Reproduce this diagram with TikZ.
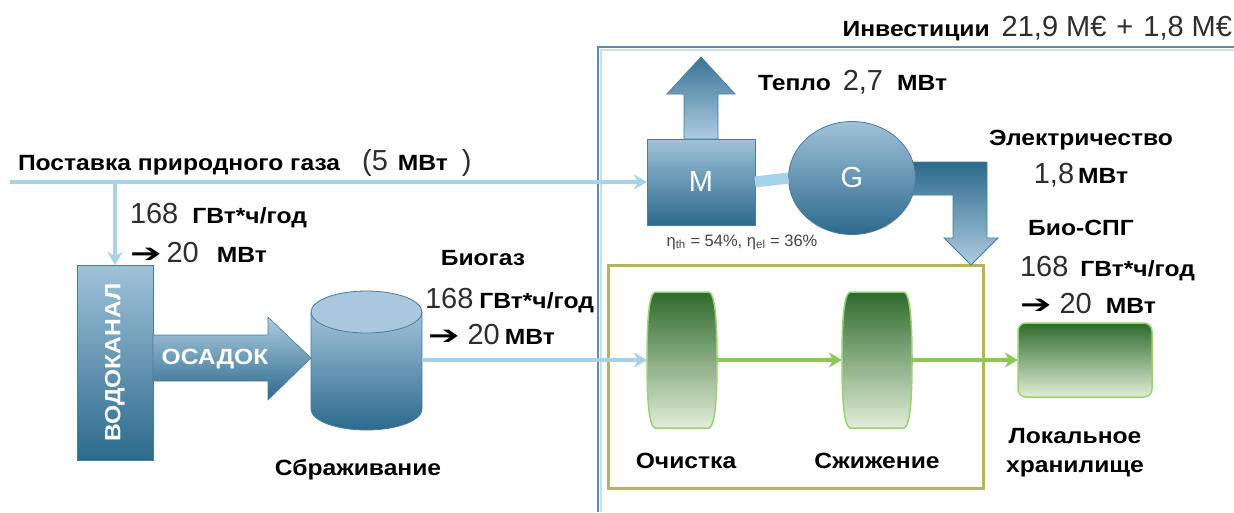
\documentclass[tikz,border=0pt]{standalone}
\usepackage{fontspec}
\usepackage{graphicx}
\setmainfont{Liberation Sans}
\newfontfamily\widesans[FakeStretch=1.12]{Liberation Sans}
\newfontfamily\dejavu{DejaVu Sans}
\usetikzlibrary{shapes.geometric,arrows.meta,calc}

\definecolor{bluetop}{HTML}{A0C2D9}
\definecolor{bluedark}{HTML}{2C6A8C}
\definecolor{bluemid}{HTML}{3A7698}
\definecolor{arrowtop}{HTML}{3A7496}
\definecolor{arrowlight}{HTML}{ADCCE0}
\definecolor{cyltop}{HTML}{A9C8DD}
\definecolor{blueedge}{HTML}{4A7C9B}
\definecolor{pipe}{HTML}{A6D3EA}
\definecolor{gdark}{HTML}{2F6B2C}
\definecolor{gmid}{HTML}{87AD67}
\definecolor{glight}{HTML}{E2EDD8}
\definecolor{gedge}{HTML}{98D274}
\definecolor{garrow}{HTML}{8CC653}
\definecolor{olive}{HTML}{B4B45C}
\definecolor{framecol}{HTML}{5E8CAA}
\definecolor{numgray}{HTML}{2E2E2E}
\definecolor{etagray}{HTML}{444444}

\newcommand\bw[1]{{\widesans\fontsize{22}{26}\selectfont\bfseries #1}}
\newcommand\nm[1]{{\fontsize{29}{33}\selectfont\color{numgray}#1}}
\newcommand\harrow{\scalebox{1.45}[1.0]{\dejavu\fontsize{26}{28}\selectfont ➔}}

\begin{document}
\begin{tikzpicture}[x=1pt,y=-1pt,
  every node/.style={inner sep=0pt, outer sep=0pt, font=\fontsize{22}{26}\selectfont},
  bluebody/.style={draw=blueedge, line width=0.8pt, top color=bluetop, bottom color=bluedark},
  pipeline/.style={draw=pipe, line width=4pt, -{Stealth[length=13pt,width=15pt,inset=4pt]}},
  greenarr/.style={draw=garrow, line width=4pt, -{Stealth[length=13pt,width=15pt,inset=4pt]}},
  greenbody/.style={draw=gedge, line width=1.5pt, top color=gdark, middle color=gmid, bottom color=glight},
]
\useasboundingbox (0,0) rectangle (1234,512);
\fill[white] (0,0) rectangle (1234,512);

% outer frame
\draw[framecol!30, line width=1.5pt] (601,512) -- (601,50) -- (1234,50);
\draw[framecol, line width=1.6pt] (598,512) -- (598,47) -- (1234,47);

% green frame
\node[draw=olive, line width=3pt, minimum width=375pt, minimum height=223pt] (GF) at (795.5,376.5) {};

% engine M
\node[bluebody, minimum width=108pt, minimum height=86pt, text=white,
      font=\fontsize{29}{33}\selectfont] (M) at (701,182) {M};
% heat arrow
\begin{scope}[shift={(M.north)}]
  \path[draw=blueedge, line width=0.8pt, top color=arrowtop, bottom color=arrowlight]
    (-17,0) -- (-17,-45) -- (-34,-45) -- (0,-82) -- (34,-45) -- (17,-45) -- (17,0) -- cycle;
\end{scope}

% electricity elbow arrow (under G)
\coordinate (Gc) at (852,178);
\begin{scope}[shift={(Gc)}]
  \path[draw=blueedge, line width=0.8pt, top color=bluedark, middle color=bluemid, bottom color=arrowlight]
    (40,-16) -- (135,-16) -- (135,60) -- (146,60) -- (119,87) -- (92,60) -- (101,60) -- (101,17) -- (40,17) -- cycle;
\end{scope}

% generator G
\node[ellipse, bluebody, minimum width=127pt, minimum height=113pt, text=white,
      font=\fontsize{29}{33}\selectfont] (G) at (Gc) {G};
\draw[draw=pipe, line width=11pt] (M.east) -- (G.west);

\node[font=\fontsize{16.5}{18}\selectfont, text=etagray] (eta) at (742,242)
  {η\textsubscript{th} = 54\%, η\textsubscript{el} = 36\%};

% Vodokanal
\node[bluebody, minimum width=76pt, minimum height=195pt] (VK) at (115,362.5) {};
\node[rotate=90, text=white] (VKt) at (VK.center) {\bw{ВОДОКАНАЛ}};

% natural gas supply
\coordinate (gas0) at (10,182);
\coordinate (gasbr) at (115,182);
\draw[pipeline] (gas0) -- (M.west);
\draw[pipeline] (gasbr) -- (VK.north);

% digester
\node[minimum width=111pt, minimum height=139pt] (DG) at (366.5,360) {};
\path[draw=blueedge, line width=0.8pt, top color=bluetop, bottom color=bluedark]
  (311,312) -- (311,409) .. controls (311,420.6) and (335.8,430) .. (366.5,430)
  .. controls (397.2,430) and (422,420.6) .. (422,409) -- (422,312) -- cycle;
\path[draw=blueedge, line width=0.8pt, fill=cyltop] (366.5,312) ellipse [x radius=55.5, y radius=21];

% sludge arrow
\path[draw=blueedge, line width=0.6pt, top color=arrowlight, bottom color=bluedark]
  (153,335) -- (268,335) -- (268,317) -- (311,358) -- (268,400) -- (268,381) -- (153,381) -- cycle;
\node[text=white] (OS) at (215,359) {\bw{ОСАДОК}};

% green processing units
\node[minimum width=70pt, minimum height=136pt] (C1) at (682,360) {};
\node[minimum width=70pt, minimum height=136pt] (C2) at (877,360) {};
\foreach \c in {C1,C2}{
  \begin{scope}[shift={(\c.center)}]
    \path[greenbody] (-27,-68) -- (27,-68) .. controls (33,-66) and (35,-40) .. (35,0)
      .. controls (35,40) and (33,66) .. (27,68) -- (-27,68)
      .. controls (-33,66) and (-35,40) .. (-35,0) .. controls (-35,-40) and (-33,-66) .. (-27,-68) -- cycle;
  \end{scope}
}
\node[greenbody, rounded corners=8pt, minimum width=134pt, minimum height=74pt] (ST) at (1085,360) {};

\draw[pipeline] (DG.east) -- (C1.west);
\draw[greenarr] (C1.east) -- (C2.west);
\draw[greenarr] (C2.east) -- (ST.west);

% texts
\node[anchor=base east] (inv) at (1232,36) {\bw{Инвестиции}\hspace{12pt}\nm{21,9\hspace{8pt}M€\hspace{10pt}+\hspace{10pt}1,8\hspace{8pt}M€}};
\node[anchor=base west] (heat) at (758,90) {\bw{Тепло}\hspace{12pt}\nm{2,7}\hspace{14pt}\bw{МВт}};
\node[anchor=base west] (gasT) at (18,170) {\bw{Поставка природного газа}\hspace{22pt}\nm{(5}\hspace{10pt}\bw{МВт}\hspace{14pt}\nm{)}};
\node[anchor=base west] (vk168) at (130,223) {\nm{168}\hspace{14pt}\bw{ГВт*ч/год}};
\node[anchor=base west] (vk20) at (130,262) {\harrow\hspace{5pt}\nm{20}\hspace{18pt}\bw{МВт}};
\node[anchor=base] (bgT) at (483,265) {\bw{Биогаз}};
\node[anchor=base west] (bg168) at (425,308) {\nm{168}\hspace{6pt}\bw{ГВт*ч/год}};
\node[anchor=base west] (bg20) at (428,344) {\harrow\hspace{8pt}\nm{20}\hspace{5pt}\bw{МВт}};
\node[anchor=base] (elT) at (1081,145) {\bw{Электричество}};
\node[anchor=base] (el18) at (1081,183) {\nm{1,8}\hspace{4pt}\bw{МВт}};
\node[anchor=base] (bspg) at (1081,235) {\bw{Био-СПГ}};
\node[anchor=base west] (r168) at (1020,276) {\nm{168}\hspace{12pt}\bw{ГВт*ч/год}};
\node[anchor=base west] (r20) at (1020,313) {\harrow\hspace{8pt}\nm{20}\hspace{14pt}\bw{МВт}};
\node[anchor=base] (c1T) at (686,468) {\bw{Очистка}};
\node[anchor=base] (c2T) at (877,468) {\bw{Сжижение}};
\node[anchor=base, align=center] (stT) at (1075,472) {\bw{Локальное}\\[3pt]\bw{хранилище}};
\node[anchor=base] (dgT) at (358,475) {\bw{Сбраживание}};
\end{tikzpicture}
\end{document}
